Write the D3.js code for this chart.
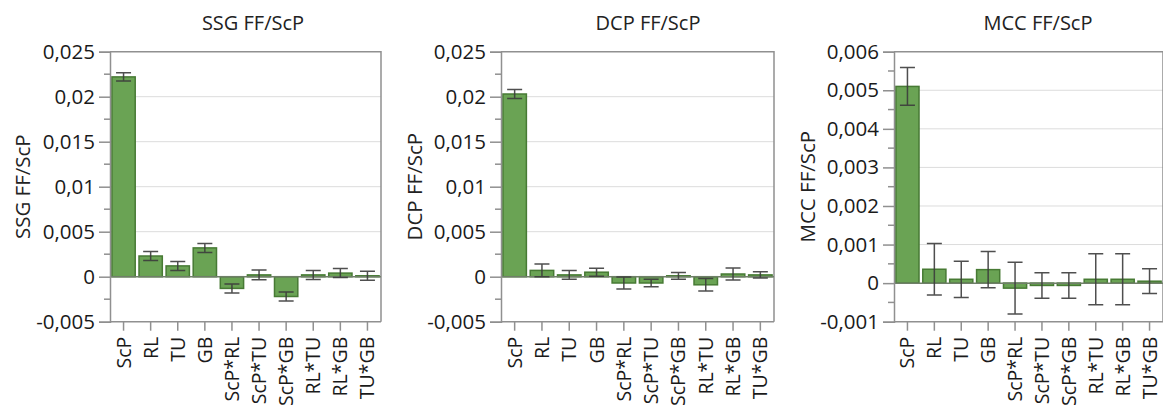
<!DOCTYPE html>
<html>
<head>
<meta charset="utf-8">
<script src="https://cdn.jsdelivr.net/npm/d3@7"></script>
<style>
  html, body { margin: 0; padding: 0; background: #fff; }
  svg { display: block; font-family: "Open Sans", "Noto Sans", sans-serif; }
</style>
</head>
<body>
<svg id="chart" width="1163" height="406"></svg>
<script>
// Model effects (factors and two-way interactions)
const categories = ["ScP", "RL", "TU", "GB", "ScP*RL", "ScP*TU", "ScP*GB", "RL*TU", "RL*GB", "TU*GB"];

// SSG FF/ScP effect estimates and half-widths of their error bars
const ssgValues = [0.0222, 0.0023, 0.0012, 0.0032, -0.0013, 0.0002, -0.0022, 0.0002, 0.0004, 0.0001];
const ssgErrors = [0.00045, 0.0005, 0.0005, 0.0005, 0.0005, 0.00055, 0.0005, 0.0005, 0.0005, 0.0005];

// DCP FF/ScP
const dcpValues = [0.0203, 0.0007, 0.0002, 0.0005, -0.0007, -0.0007, 0.0001, -0.0009, 0.0003, 0.0002];
const dcpErrors = [0.0005, 0.0007, 0.00048, 0.00045, 0.00068, 0.00042, 0.00037, 0.0007, 0.00068, 0.00035];

// MCC FF/ScP
const mccValues = [0.0051, 0.00036, 0.0001, 0.00035, -0.00013, -0.00006, -0.00006, 0.0001, 0.0001, 0.00005];
const mccErrors = [0.00049, 0.00067, 0.00047, 0.00047, 0.00067, 0.00033, 0.00033, 0.00066, 0.00066, 0.00032];

// Axis ticks
const ticksA = [-0.005, 0, 0.005, 0.01, 0.015, 0.02, 0.025];
const ticksA_minor = [-0.0025, 0.0025, 0.0075, 0.0125, 0.0175, 0.0225];
const ticksB = [-0.001, 0, 0.001, 0.002, 0.003, 0.004, 0.005, 0.006];
const ticksB_minor = [-0.0005, 0.0005, 0.0015, 0.0025, 0.0035, 0.0045, 0.0055];

const panels = [
  { title: "SSG FF/ScP", values: ssgValues, errors: ssgErrors, domain: [-0.005, 0.025], ticks: ticksA, minor: ticksA_minor, x0: 110, x1: 381, titleX: 253, yTitleX: 30 },
  { title: "DCP FF/ScP", values: dcpValues, errors: dcpErrors, domain: [-0.005, 0.025], ticks: ticksA, minor: ticksA_minor, x0: 501, x1: 774, titleX: 648, yTitleX: 422 },
  { title: "MCC FF/ScP", values: mccValues, errors: mccErrors, domain: [-0.001, 0.006], ticks: ticksB, minor: ticksB_minor, x0: 894, x1: 1163, titleX: 1038, yTitleX: 815 }
];

const yTop = 51.7, yBot = 321.7;
const fmt = v => (v === 0 ? "0" : String(+v.toFixed(4)).replace(".", ","));

const svg = d3.select("#chart");

panels.forEach(p => {
  const g = svg.append("g");
  const x = d3.scaleBand().domain(categories).range([p.x0, p.x1]).paddingInner(0.14).paddingOuter(0.07);
  const y = d3.scaleLinear().domain(p.domain).range([yBot, yTop]);

  // gridlines
  g.append("g").selectAll("line")
    .data(p.ticks.filter(t => t !== 0 && t !== p.domain[0] && t !== p.domain[1]))
    .join("line")
    .attr("x1", p.x0).attr("x2", p.x1)
    .attr("y1", d => y(d)).attr("y2", d => y(d))
    .attr("stroke", "#dcdcdc").attr("stroke-width", 1);

  // frame: top and right
  g.append("path")
    .attr("d", `M${p.x0},${y(p.domain[1])}H${p.x1}V${yBot}`)
    .attr("fill", "none").attr("stroke", "#909090").attr("stroke-width", 1.5);

  // bars
  g.append("g").selectAll("rect")
    .data(categories.map((c, i) => ({ c, v: p.values[i], e: p.errors[i] })))
    .join("rect")
    .attr("x", d => x(d.c))
    .attr("width", x.bandwidth())
    .attr("y", d => y(Math.max(0, d.v)))
    .attr("height", d => Math.abs(y(d.v) - y(0)))
    .attr("fill", "#6aa354")
    .attr("stroke", "#477a34")
    .attr("stroke-width", 1.5);

  // zero line
  g.append("line")
    .attr("x1", p.x0).attr("x2", p.x1)
    .attr("y1", y(0)).attr("y2", y(0))
    .attr("stroke", "#6f7f68").attr("stroke-width", 1.5);

  // error bars
  const eb = g.append("g").attr("stroke", "#3c3c3c").attr("stroke-width", 1.5).attr("fill", "none");
  categories.forEach((c, i) => {
    const cx = x(c) + x.bandwidth() / 2;
    const hi = y(p.values[i] + p.errors[i]);
    const lo = y(p.values[i] - p.errors[i]);
    const cap = 7.5;
    eb.append("path")
      .attr("d", `M${cx},${hi}V${lo}M${cx - cap},${hi}H${cx + cap}M${cx - cap},${lo}H${cx + cap}`)
      .attr("stroke-opacity", 0.9);
  });

  // y axis
  const yAxis = g.append("g").attr("transform", `translate(${p.x0},0)`)
    .call(d3.axisLeft(y).tickValues(p.ticks).tickFormat(fmt).tickSize(11).tickPadding(4));
  yAxis.select(".domain").attr("stroke", "#909090").attr("stroke-width", 1.5);
  yAxis.selectAll(".tick line").attr("stroke", "#909090").attr("stroke-width", 1.5);
  yAxis.selectAll(".tick text").attr("font-size", "20.5px").attr("fill", "#1a1a1a")
    .attr("font-family", "'Open Sans', 'Noto Sans', sans-serif");

  // minor ticks
  g.append("g").selectAll("line").data(p.minor).join("line")
    .attr("x1", p.x0 - 6).attr("x2", p.x0)
    .attr("y1", d => y(d)).attr("y2", d => y(d))
    .attr("stroke", "#909090").attr("stroke-width", 1.5);

  // x axis
  const xAxis = g.append("g").attr("transform", `translate(0,${yBot})`)
    .call(d3.axisBottom(x).tickSize(9).tickPadding(0));
  xAxis.select(".domain").attr("stroke", "#909090").attr("stroke-width", 1.5)
    .attr("d", `M${p.x0},0H${p.x1}`);
  xAxis.selectAll(".tick line").attr("stroke", "#909090").attr("stroke-width", 1.5);
  xAxis.selectAll(".tick text")
    .attr("font-size", "19.5px").attr("fill", "#1a1a1a")
    .attr("font-family", "'Open Sans', 'Noto Sans', sans-serif")
    .attr("text-anchor", "end")
    .attr("dy", null)
    .attr("transform", "translate(7,15) rotate(-90)")
    .attr("y", 0).attr("x", 0);

  // panel title
  g.append("text")
    .attr("x", p.titleX).attr("y", 30)
    .attr("text-anchor", "middle")
    .attr("font-size", "20px").attr("fill", "#222")
    .text(p.title);

  // y axis title
  g.append("text")
    .attr("transform", `translate(${p.yTitleX},${(yTop + yBot) / 2}) rotate(-90)`)
    .attr("text-anchor", "middle")
    .attr("font-size", "20.5px").attr("fill", "#222")
    .text(p.title);
});
</script>
</body>
</html>
